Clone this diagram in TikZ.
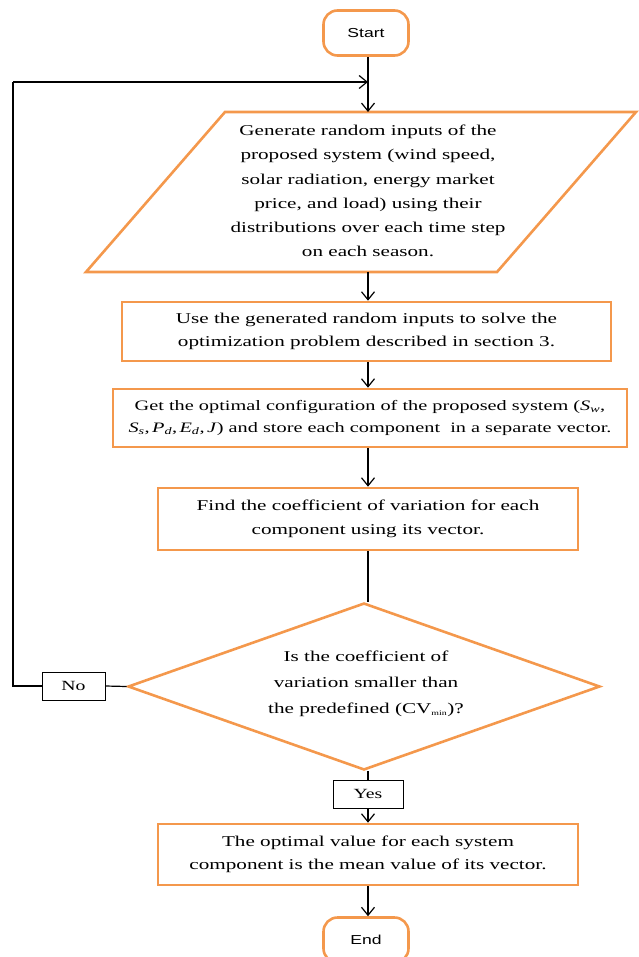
\documentclass[tikz,border=0pt]{standalone}
\usepackage{fontspec}
\setmainfont[FakeStretch=1.41]{Liberation Serif}
\newfontfamily\sansf[FakeStretch=1.35]{Liberation Sans}
\usetikzlibrary{arrows.meta,shapes.geometric}
\definecolor{ora}{RGB}{244,152,76}
\tikzset{
  box/.style={draw=ora,line width=2.6pt,align=center,inner sep=0pt,font=\fontsize{15}{23.5}\selectfont},
  term/.style={draw=ora,line width=2.6pt,rounded corners=14pt,minimum width=85pt,minimum height=45pt,font=\sansf\fontsize{13}{15}\selectfont},
  lbl/.style={draw=black,line width=1pt,minimum height=28pt,inner sep=0pt,font=\fontsize{14}{15}\selectfont},
  conn/.style={line width=1.2pt,draw=black},
  arr/.style={conn,-{Straight Barb[length=8pt,width=13pt,line width=1.2pt]}},
}
\newcommand{\vsub}[2]{\textit{#1}\textsubscript{\textit{#2}}}
\begin{document}
\begin{tikzpicture}[x=1pt,y=-1pt]
\useasboundingbox (0,0) rectangle (638,957);
\node[term] (start) at (366,33) {Start};
% parallelogram
\coordinate (pTL) at (225,112);
\coordinate (pTR) at (636,112);
\coordinate (pBR) at (497,272);
\coordinate (pBL) at (86,272);
\draw[draw=ora,line width=2.6pt,line join=miter] (pTL) -- (pTR) -- (pBR) -- (pBL) -- cycle;
\node[align=center,font=\fontsize{15}{24.2}\selectfont] (gen) at (368,191) {Generate random inputs of the\\proposed system (wind speed,\\solar radiation, energy market\\price, and load) using their\\distributions over each time step\\on each season.};
\coordinate (ptop) at (368,112);
\coordinate (pbot) at (368,272);
\node[box,minimum width=489pt,minimum height=59pt] (b2) at (366.5,331.5) {Use the generated random inputs to solve the\\optimization problem described in section 3.};
\node[box,minimum width=514pt,minimum height=58pt,font=\fontsize{14.4}{22.5}\selectfont] (b3) at (370,418) {Get the optimal configuration of the proposed system (\vsub{S}{w},\\\vsub{S}{s},\,\vsub{P}{d},\,\vsub{E}{d},\,\textit{J}) and store each component\ \ in a separate vector.};
\node[box,minimum width=420pt,minimum height=62pt] (b4) at (368,519) {Find the coefficient of variation for each\\component using its vector.};
\node[diamond,draw=ora,line width=2.6pt,minimum width=472pt,minimum height=167pt,inner sep=0pt,align=center,aspect=2.83] (dec) at (364,686.5) {};
\node[align=center,font=\fontsize{15}{26}\selectfont] (dectext) at (366,684) {Is the coefficient of\\variation smaller than\\the predefined (CV\textsubscript{\scriptsize min})?};
\node[lbl,minimum width=63pt] (no) at (73.5,686) {No};
\node[lbl,minimum width=70pt] (yes) at (368,794) {Yes};
\node[box,minimum width=420pt,minimum height=61pt] (b5) at (368,854.5) {The optimal value for each system\\component is the mean value of its vector.};
\node[term] (end) at (366,940) {End};
\coordinate (loopTop) at (13,82);
\coordinate (loopBot) at (13,686);
\coordinate (join) at (368,82);
% connectors
\draw[conn] (start.south -| join) -- (join);
\draw[arr] (join) -- (ptop);
\draw[arr] (pbot) -- (b2.north -| pbot);
\draw[arr] (b2.south -| pbot) -- (b3.north -| pbot);
\draw[arr] (b3.south -| pbot) -- (b4.north -| pbot);
\draw[conn] (b4.south -| pbot) -- (dec.north -| pbot);
\draw[conn] (dec.south -| yes) -- (yes.north);
\draw[arr] (yes.south) -- (b5.north -| yes);
\draw[arr] (b5.south -| yes) -- (end.north -| yes);
\draw[conn] (dec.west) -- (no.east);
\draw[conn] (no.west) -- (loopBot) -- (loopTop);
\draw[arr] (loopTop) -- (join);
\end{tikzpicture}
\end{document}
